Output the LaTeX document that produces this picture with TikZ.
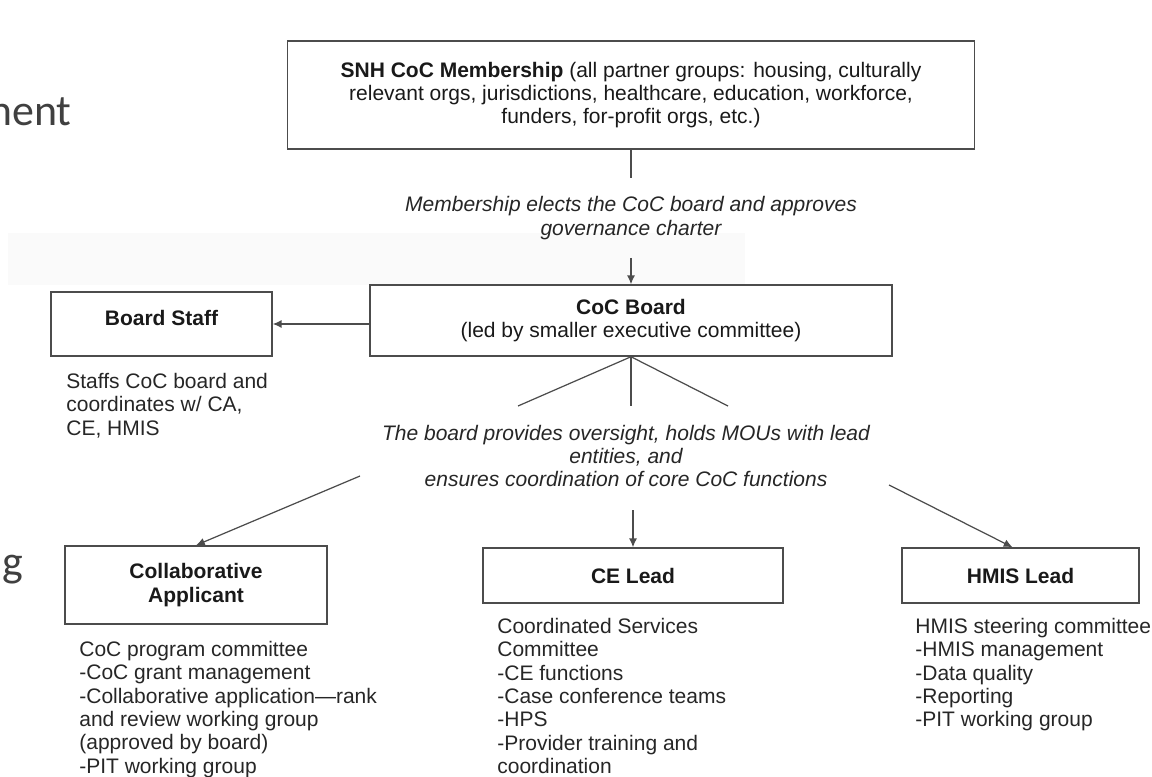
\documentclass[tikz,border=0pt]{standalone}
\usepackage{fontspec}
\setmainfont{Liberation Sans}
\newfontfamily\slidefont{Carlito}
\usetikzlibrary{arrows.meta,positioning}

\begin{document}
\begin{tikzpicture}[x=0.02cm, y=-0.02cm, font=\fontsize{11.95}{13.26}\selectfont, >={Latex[length=5pt,width=4.5pt]},
  box/.style={draw=black!70, line width=0.85pt, align=center, inner sep=2pt, text=black!90},
  note/.style={align=left, anchor=north west, inner sep=0pt, text=black!85},
  say/.style={align=center, font=\fontsize{11.95}{13.26}\selectfont\itshape, text=black!85},
  frag/.style={inner sep=0pt, text=black!75, font=\slidefont\fontsize{25}{30}\selectfont},
  link/.style={draw=black!70, line width=0.7pt}]
              \useasboundingbox (0,0) rectangle (1152,777);
              \fill[black!2] (8,233) rectangle (745,285);

              % cut-off slide text at the left edge
              \node[frag, anchor=base east] (frag1) at (72,125) {ment};
              \node[frag, anchor=base west] (frag2) at (2,576) {g};

              \node[box, minimum width=13.74cm, minimum height=2.16cm] (memb) at (631,95) {\textbf{SNH CoC Membership} (all partner groups: housing, culturally\\relevant orgs, jurisdictions, healthcare, education, workforce,\\funders, for-profit orgs, etc.)};
              \node[say, inner ysep=0.36cm] (elect) at (631,218) {Membership elects the CoC board and approves\\governance charter};
              \node[box, minimum width=10.44cm, minimum height=1.42cm] (board) at (631,320.5) {\textbf{CoC Board}\\(led by smaller executive committee)};
              \node[box, minimum width=4.42cm, minimum height=1.28cm, text depth=0.24cm] (staff) at (161.5,324) {\textbf{Board Staff}};
              \node[note] (staffnote) at (66,373) {Staffs CoC board and\\coordinates w/ CA,\\CE, HMIS};

              \node[say] (duty) at (626,456) {The board provides oversight, holds MOUs with lead\\entities, and\\ensures coordination of core CoC functions};
              \coordinate (t1) at (518,406);
              \coordinate (t2) at (631,406);
              \coordinate (t3) at (728,406);
              \coordinate (s1) at (360,476);
              \coordinate (s2) at (633,510);
              \coordinate (s3) at (889,485);

              \node[box, minimum width=5.24cm, minimum height=1.56cm] (ca) at (196,585) {\textbf{Collaborative}\\\textbf{Applicant}};
              \node[box, minimum width=6cm, minimum height=1.1cm] (ce) at (633,575.5) {\textbf{CE Lead}};
              \node[box, minimum width=4.74cm, minimum height=1.1cm] (hmis) at (1020.5,575.5) {\textbf{HMIS Lead}};

              \node[note] (canote) at (79,641) {CoC program committee\\-CoC grant management\\-Collaborative application\textemdash rank\\and review working group\\(approved by board)\\-PIT working group};
              \node[note] (cenote) at (497,618) {Coordinated Services\\Committee\\-CE functions\\-Case conference teams\\-HPS\\-Provider training and\\coordination};
              \node[note] (hmisnote) at (915,618) {HMIS steering committee\\-HMIS management\\-Data quality\\-Reporting\\-PIT working group};

              \draw[link] (memb) -- (elect);
              \draw[link,->] (elect) -- (board);
              \draw[link,->] (board.west |- staff.east) -- (staff.east);
              \draw[link] (board.south) -- (t1);
              \draw[link] (board.south) -- (t2);
              \draw[link] (board.south) -- (t3);
              \draw[link,->] (s1) -- (ca.north);
              \draw[link,->] (s2) -- (ce.north);
              \draw[link,->] (s3) -- ([xshift=-0.16cm]hmis.north);
            \end{tikzpicture}
\end{document}
